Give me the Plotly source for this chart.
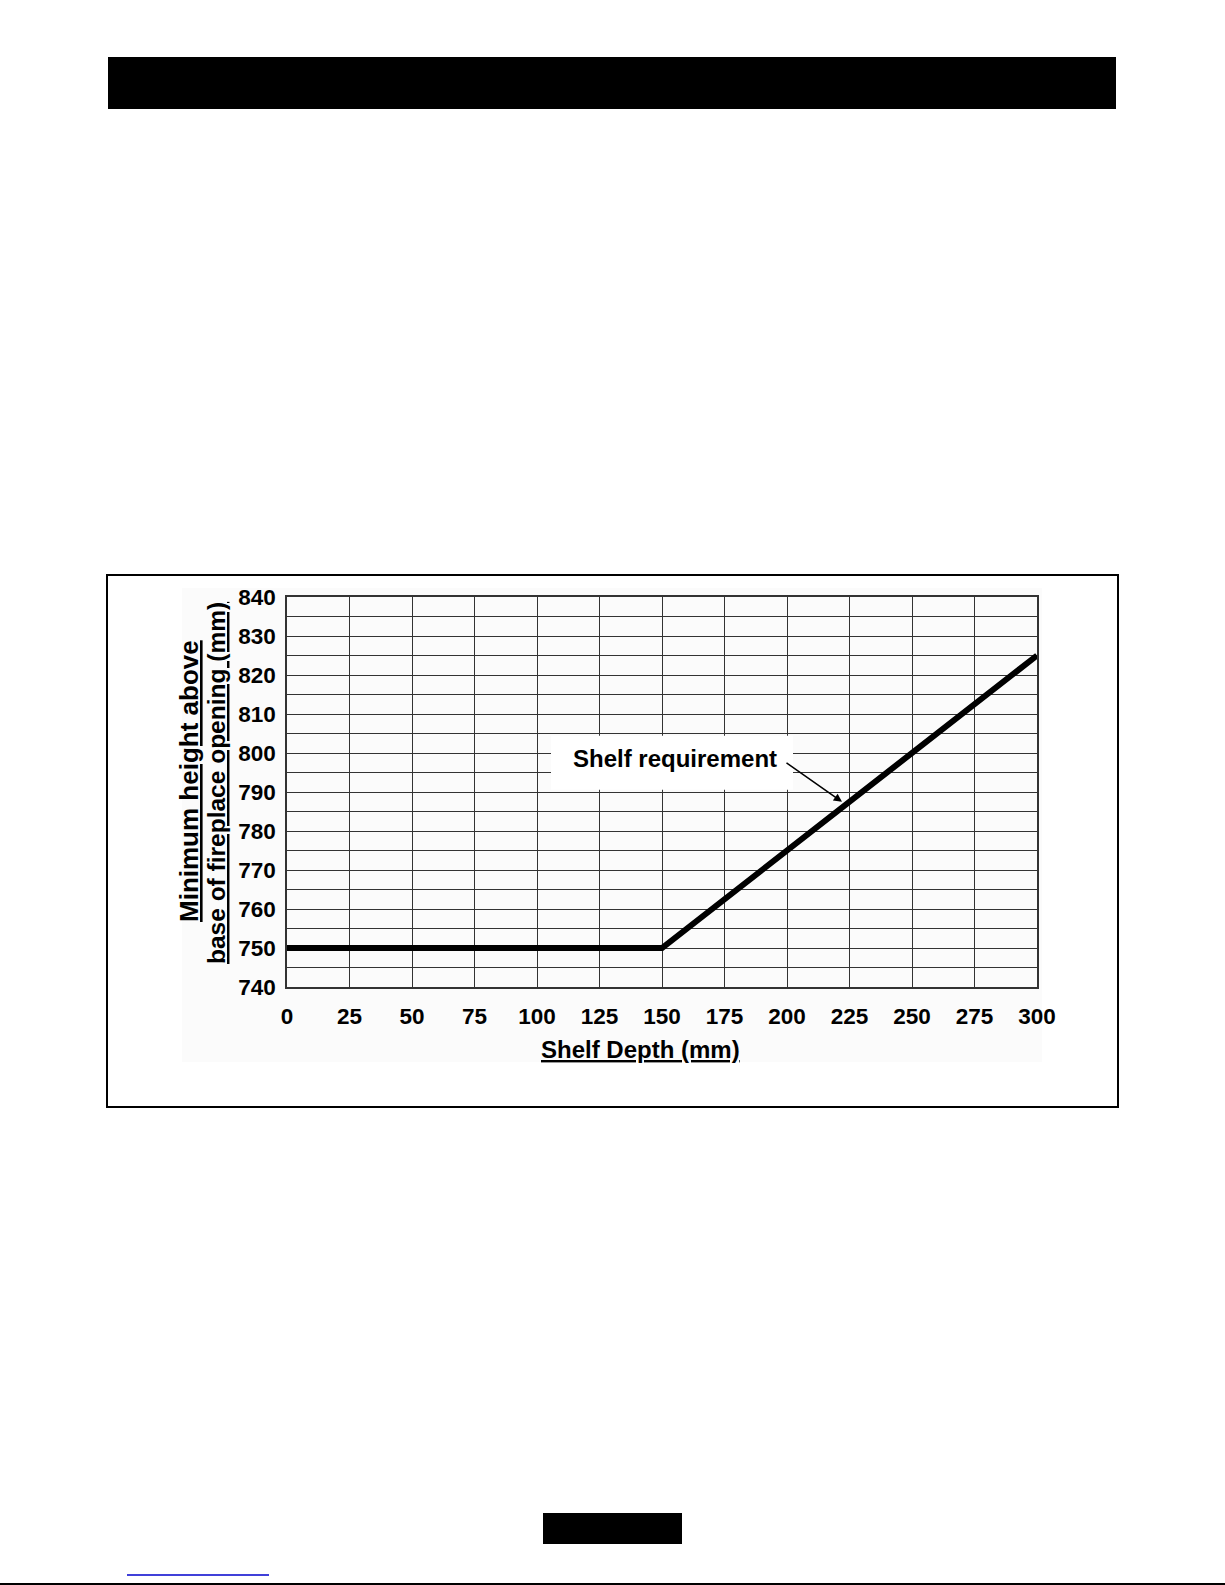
import plotly.graph_objects as go

# ---- data ----
shelf_depth = [0, 150, 300]
min_height = [750, 750, 825]
x_ticks = [0, 25, 50, 75, 100, 125, 150, 175, 200, 225, 250, 275, 300]
y_ticks = [740, 750, 760, 770, 780, 790, 800, 810, 820, 830, 840]
annotation_text = "Shelf requirement"
x_title = "Shelf Depth (mm)"
y_title_lines = ["Minimum height above", "base of fireplace opening (mm)"]

# ---- layout geometry (pixels) ----
W, H = 1225, 1585
L, R, T, B = 287, 1037, 597, 987  # plot area


def px(x):
    return (x - L) / (R - L)


def py(y):
    return (B - y) / (B - T)


FONT = "Liberation Sans, Arial, sans-serif"

fig = go.Figure()
fig.add_trace(go.Scatter(
    x=shelf_depth, y=min_height, mode="lines",
    line=dict(color="black", width=6), showlegend=False, hoverinfo="skip",
))

shapes = [
    # header bar
    dict(type="rect", xref="paper", yref="paper", x0=px(108), x1=px(1116), y0=py(57), y1=py(109),
         fillcolor="black", line=dict(width=0), layer="above"),
    # light gray chart image background
    dict(type="rect", xref="paper", yref="paper", x0=px(182), x1=px(1042), y0=py(588), y1=py(1062),
         fillcolor="#fbfbfb", line=dict(width=0), layer="below"),
    # outer frame
    dict(type="rect", xref="paper", yref="paper", x0=px(107), x1=px(1118), y0=py(575), y1=py(1107),
         fillcolor="rgba(0,0,0,0)", line=dict(color="black", width=2), layer="above"),
    # label background (hides grid)
    dict(type="rect", xref="x", yref="y", x0=105.6, x1=202.4, y0=790.6, y1=804.4,
         fillcolor="white", line=dict(width=0), layer="above"),
    # footer block
    dict(type="rect", xref="paper", yref="paper", x0=px(543), x1=px(682), y0=py(1513), y1=py(1544),
         fillcolor="black", line=dict(width=0), layer="above"),
    # blue link underline
    dict(type="line", xref="paper", yref="paper", x0=px(127), x1=px(269), y0=py(1575), y1=py(1575),
         line=dict(color="#0000cc", width=1.5), layer="above"),
    # bottom rule
    dict(type="line", xref="paper", yref="paper", x0=px(0), x1=px(1225), y0=py(1584), y1=py(1584),
         line=dict(color="black", width=2), layer="above"),
]

annotations = [
    dict(text=annotation_text, xref="paper", yref="paper", x=px(675), y=py(758),
         showarrow=False, xanchor="center", yanchor="middle",
         font=dict(family=FONT, size=24, color="black", weight="bold")),
    dict(text="", xref="x", yref="y", x=222, y=787.5, ax=-57, ay=-40,
         showarrow=True, arrowhead=2, arrowsize=1.1, arrowwidth=1.5, arrowcolor="black"),
    dict(text="<u>" + y_title_lines[0] + "</u>", xref="paper", yref="paper", x=px(189), y=py(781),
         textangle=-90, showarrow=False, xanchor="center", yanchor="middle",
         font=dict(family=FONT, size=26, color="black", weight="bold")),
    dict(text="<u>" + y_title_lines[1] + "</u>", xref="paper", yref="paper", x=px(216), y=py(783),
         textangle=-90, showarrow=False, xanchor="center", yanchor="middle",
         font=dict(family=FONT, size=24.5, color="black", weight="bold")),
    dict(text="<u>" + x_title + "</u>", xref="paper", yref="paper", x=px(640), y=py(1049),
         showarrow=False, xanchor="center", yanchor="middle",
         font=dict(family=FONT, size=24, color="black", weight="bold")),
]

grid = "#333333"
fig.update_layout(
    width=W, height=H,
    margin=dict(l=L, r=W - R, t=T, b=H - B, pad=0),
    paper_bgcolor="white", plot_bgcolor="rgba(0,0,0,0)",
    shapes=shapes, annotations=annotations, showlegend=False,
    font=dict(family=FONT, color="black"),
)
fig.update_xaxes(
    range=[0, 300], tickmode="array", tickvals=x_ticks, ticktext=[str(v) for v in x_ticks],
    showgrid=True, gridcolor=grid, gridwidth=1.4, zeroline=False,
    showline=True, linecolor=grid, linewidth=1.6, mirror=True,
    ticks="", ticklabelstandoff=8,
    tickfont=dict(family=FONT, size=22.5, color="black", weight="bold"),
)
fig.update_yaxes(
    range=[740, 840], tickmode="array", tickvals=y_ticks, ticktext=[str(v) for v in y_ticks],
    showgrid=True, gridcolor=grid, gridwidth=1.4, zeroline=False,
    minor=dict(dtick=5, tick0=740, showgrid=True, gridcolor=grid, gridwidth=1.4, ticks=""),
    showline=True, linecolor=grid, linewidth=1.6, mirror=True,
    ticks="", ticklabelstandoff=5,
    tickfont=dict(family=FONT, size=22.5, color="black", weight="bold"),
)

fig.write_html("out.html", config={"displayModeBar": False},
               post_script="document.body.style.margin='0';document.body.style.overflow='hidden';")
